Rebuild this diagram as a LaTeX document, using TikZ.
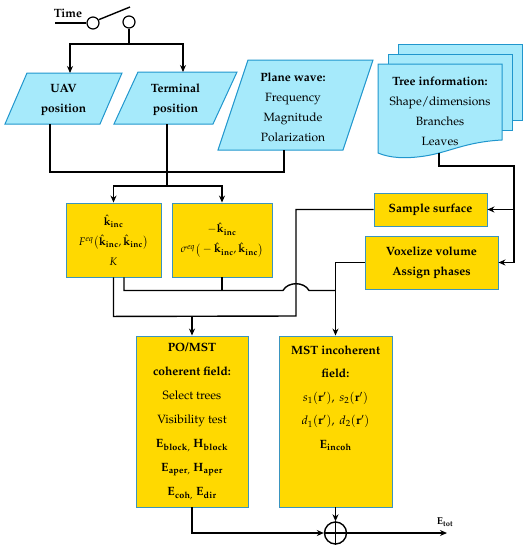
\documentclass[tikz,border=0pt]{standalone}
\usepackage[T1]{fontenc}
\usepackage{mathpazo}
\usepackage{tikz}
\usetikzlibrary{arrows.meta, positioning, shapes.geometric, calc}
\definecolor{inblue}{RGB}{166,234,251}
\definecolor{inedge}{RGB}{32,150,205}
\definecolor{procyel}{RGB}{255,217,0}
\definecolor{procedge}{RGB}{58,148,190}

\begin{document}
\begin{tikzpicture}[
  x=1pt, y=-1pt,
  font=\fontsize{12}{20}\selectfont,
  inshape/.style={draw=inedge, fill=inblue, line width=1pt},
  intext/.style={inner sep=0pt, align=center},
  procbox/.style={draw=procedge, fill=procyel, line width=0.9pt,
                  inner sep=0pt, align=center},
  wire/.style={draw=black, line width=1.4pt},
  arr/.style={wire, -{Stealth[length=7pt,width=6pt]}},
  pin/.style={circle, draw=black, line width=1.2pt, fill=white,
              minimum size=12pt, inner sep=0pt},
  sumnode/.style={circle, draw=black, line width=1.4pt, fill=white,
                  minimum size=22pt, inner sep=0pt}
]
\useasboundingbox (0,0) rectangle (528,550);

\node[font=\fontsize{12}{14}\selectfont\bfseries] (timelbl) at (68,13) {Time};
\coordinate (tin) at (55,23);
\node[pin] (sw1) at (93,23) {};
\node[pin] (sw2) at (129,22) {};
\coordinate (armend) at (130,7);
\draw[wire] (tin) -- (sw1.west);
\draw[wire] (sw1.30) -- (armend);

\draw[inshape] (5,124) -- (27,73) -- (122,73) -- (100,124) -- cycle;
\node[intext, font=\fontsize{12}{20}\selectfont\bfseries] (uav) at (63.5,100) {UAV\\position};
\coordinate (uavtop) at (70,73);
\coordinate (uavbot) at (50,124);

\draw[inshape] (114,124) -- (138,72) -- (237,72) -- (213,124) -- cycle;
\node[intext, font=\fontsize{12}{20}\selectfont\bfseries] (term) at (175.5,100) {Terminal\\position};
\coordinate (termtop) at (183,72);
\coordinate (termbot) at (167,124);

\draw[inshape] (218,150) -- (248,60) -- (373,60) -- (343,150) -- cycle;
\node[intext] (plane) at (293,107)
  {\textbf{Plane wave:}\\Frequency\\Magnitude\\Polarization};
\coordinate (planebot) at (284,150);

\draw[inshape] (398,44) rectangle (522,120);
\draw[inshape] (388,54) rectangle (512,130);
\draw[inshape] (378,64) -- (502,64) -- (502,140)
  .. controls (465,142) and (450,152) .. (425,156)
  .. controls (405,159) and (390,158) .. (378,153) -- cycle;
\node[intext] (treeinfo) at (440,111)
  {\textbf{Tree information:}\\Shape/dimensions\\Branches\\Leaves};
\coordinate (treebot) at (439,153);
\coordinate (treecol) at (514,166);

\node[procbox, minimum width=95pt, minimum height=74pt, font=\fontsize{11}{20}\selectfont]
  (box1) at (113.5,240)
  {$\hat{\mathbf{k}}_{\mathbf{inc}}$\\
   $F^{eq}\big(\hat{\mathbf{k}}_{\mathbf{inc}},\hat{\mathbf{k}}_{\mathbf{inc}}\big)$\\
   $K$};
\node[procbox, minimum width=100pt, minimum height=74pt, font=\fontsize{11}{20}\selectfont]
  (box2) at (222,240)
  {$-\hat{\mathbf{k}}_{\mathbf{inc}}$\\
   $\sigma^{eq}\big(-\hat{\mathbf{k}}_{\mathbf{inc}},\hat{\mathbf{k}}_{\mathbf{inc}}\big)$};
\node[procbox, minimum width=113pt, minimum height=33pt, font=\fontsize{12}{20}\selectfont\bfseries]
  (sample) at (430.5,209.5) {Sample surface};
\node[procbox, minimum width=133pt, minimum height=53pt, font=\fontsize{12}{20}\selectfont\bfseries]
  (vox) at (431.5,262.5) {Voxelize volume\\Assign phases};

\node[procbox, minimum width=112pt, minimum height=171pt, font=\fontsize{12}{24}\selectfont]
  (po) at (192,421.5)
  {\textbf{PO/MST}\\\textbf{coherent field:}\\Select trees\\Visibility test\\
   $\mathbf{E}_{\mathbf{block},}\ \mathbf{H}_{\mathbf{block}}$\\
   $\mathbf{E}_{\mathbf{aper},}\ \mathbf{H}_{\mathbf{aper}}$\\
   $\mathbf{E}_{\mathbf{coh},}\ \mathbf{E}_{\mathbf{dir}}$};
\node[procbox, minimum width=113pt, minimum height=171pt] (mst) at (335.5,421.5) {};
\node[anchor=north, inner sep=0pt, align=center, font=\fontsize{12}{23.5}\selectfont]
  (msttext) at ($(mst.north)+(0,10)$)
  {\textbf{MST incoherent}\\\textbf{field:}\\
   $s_1(\mathbf{r}'),\ s_2(\mathbf{r}')$\\
   $d_1(\mathbf{r}'),\ d_2(\mathbf{r}')$\\
   $\mathbf{E}_{\mathbf{incoh}}$};

\node[sumnode] (sum) at (335.5,533) {};
\draw[line width=1.4pt] (sum.north) -- (sum.south) (sum.west) -- (sum.east);
\coordinate (etot) at (447,533);
\node[font=\fontsize{10}{12}\selectfont] (etotlbl) at (445,522) {$\mathbf{E}_{\mathbf{tot}}$};

\coordinate (split1) at (129,44);
\coordinate (merge) at (0,172);
\coordinate (split2) at ($(termbot)+(0,62)$);
\coordinate (tap1) at ($(box1.south)+(0,39)$);
\coordinate (jog) at (296,316);
\coordinate (tap2) at ($(box1.south)+(10.5,13)$);

\draw[wire] (sw2.south) -- (split1);
\draw[arr] (split1) -| (uavtop);
\draw[arr] (split1) -| (termtop);

\draw[wire] (uavbot) |- (planebot |- merge) -- (planebot);
\draw[wire] (termbot) -- (split2);
\draw[arr] (split2) -| (box1.north);
\draw[arr] (split2) -| (box2.north);

\draw[arr] (treebot) |- (treecol) |- (vox.east);
\draw[arr] (treecol |- sample.east) -- (sample.east);

\draw[wire] (sample.west) -| (jog) -- (tap1) -- (box1.south);
\draw[arr] (po.north |- jog) -- (po.north);

\draw[wire] ($(box1.south)+(10.5,0)$) -- (tap2) -- ($(jog |- tap2)+(-13,0)$)
  .. controls +(5,-9) and +(-5,-9) .. ($(jog |- tap2)+(13,0)$) -- (mst.north |- tap2);
\draw[wire] (box2.south) -- (box2.south |- tap2);
\draw[arr] (vox.west) -| (mst.north);

\draw[arr] (po.south) |- (sum.west);
\draw[arr] (mst.south) -- (sum.north);
\draw[arr] (sum.east) -- (etot);

\end{tikzpicture}
\end{document}
